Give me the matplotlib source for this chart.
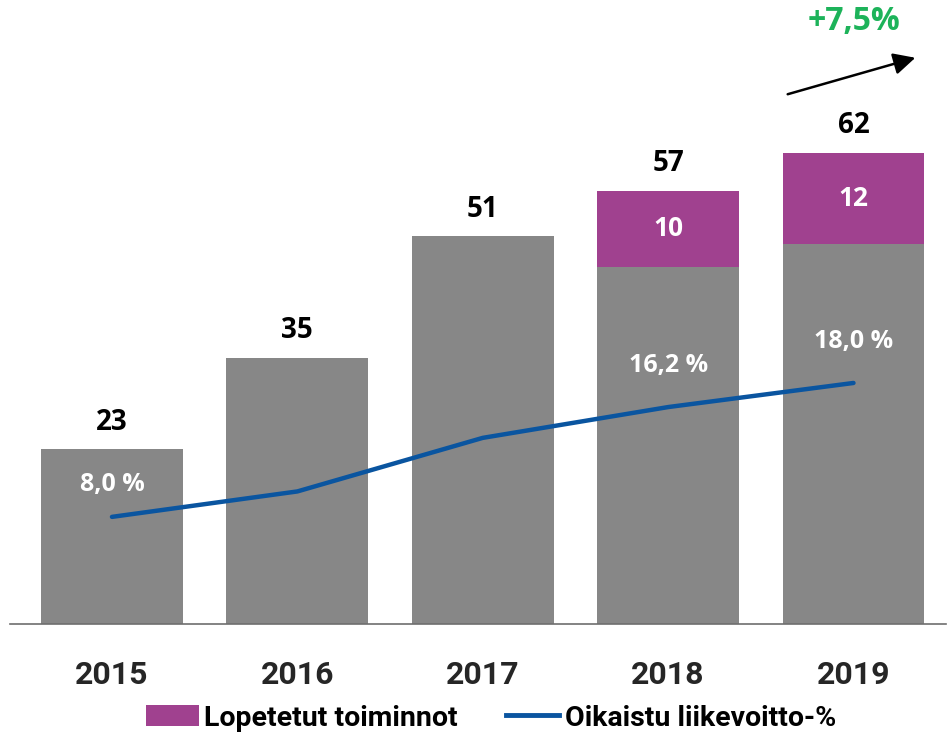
import matplotlib
matplotlib.use("Agg")
import matplotlib.pyplot as plt
from matplotlib.lines import Line2D
from matplotlib.patches import Patch, FancyArrowPatch

years = ["2015", "2016", "2017", "2018", "2019"]
continuing = [23, 35, 51, 47, 50]
discontinued = [0, 0, 0, 10, 12]
totals = [23, 35, 51, 57, 62]
margin_pct = [8.0, 9.9, 13.9, 16.2, 18.0]
margin_labels = ["8,0 %", "", "", "16,2 %", "18,0 %"]
growth_label = "+7,5%"
legend_labels = ["Lopetetut toiminnot", "Oikaistu liikevoitto-%"]

GRAY = "#878787"
PURPLE = "#a0418f"
BLUE = "#0a55a0"
GREEN = "#1db35a"

fig = plt.figure(figsize=(9.49, 7.35), dpi=100)
W, H = 949, 735
ax = fig.add_axes([10 / W, 1 - 624 / H, 936 / W, 624 / H])
ax2 = ax.twinx()

x = list(range(len(years)))
bw = 0.765
ax.bar(x, continuing, width=bw, color=GRAY, zorder=2)
disc_x = [i for i in x if discontinued[i] > 0]
ax.bar(disc_x, [discontinued[i] for i in disc_x], bottom=[continuing[i] for i in disc_x],
       width=bw, color=PURPLE, zorder=2)

ax.set_xlim(-0.55, 4.499)
ax.set_ylim(0, 82.1)
ax2.set_ylim(0, 46.6)

num_font = ["Open Sans", "DejaVu Sans"]
cond_font = ["Roboto", "DejaVu Sans"]

for i, t in enumerate(totals):
    ax.annotate(str(t), (i, t), xytext=(0, 9), textcoords="offset points",
                ha="center", va="bottom", fontsize=20, fontweight="bold",
                family=num_font, color="black")
for i in disc_x:
    ax.text(i, continuing[i] + discontinued[i] / 2, str(discontinued[i]), ha="center",
            va="center", fontsize=19, fontweight="bold", family=num_font, color="white")

ax2.plot(x, margin_pct, color=BLUE, lw=3.2, solid_capstyle="round", zorder=3)
for i, lab in enumerate(margin_labels):
    if lab:
        off = 23 if i == 0 else 30
        ax2.annotate(lab, (i, margin_pct[i]), xytext=(0, off), textcoords="offset points",
                     ha="center", va="center", fontsize=18, fontweight="bold",
                     family=num_font, color="white")

for a in (ax, ax2):
    for s in ("top", "right", "left"):
        a.spines[s].set_visible(False)
    a.set_yticks([])
ax2.spines["bottom"].set_visible(False)
ax.spines["bottom"].set_color("#6e6e6e")
ax.spines["bottom"].set_linewidth(1.2)
ax.set_xticks(x)
ax.set_xticklabels(years, fontsize=23, fontweight="bold", family=cond_font, color="#262626")
ax.tick_params(axis="x", length=0, pad=26)

# growth arrow
fig.add_artist(FancyArrowPatch(
    (785 / W, 1 - 95 / H), (918 / W, 1 - 57 / H), transform=fig.transFigure,
    arrowstyle="-|>,head_length=6,head_width=3", color="black", lw=1.8, mutation_scale=2.2))
fig.text(854 / W, 1 - 22 / H, growth_label, ha="center", va="center", fontsize=23,
         fontweight="bold", family=num_font, color=GREEN)

handles = [Patch(facecolor=PURPLE, edgecolor="none"),
           Line2D([0], [0], color=BLUE, lw=3.5)]
fig.legend(handles, legend_labels, loc="center", bbox_to_anchor=(491 / W, 1 - 718 / H),
           ncol=2, frameon=False, prop={"family": cond_font, "weight": "bold", "size": 20.5},
           handlelength=1.85, handleheight=0.75, handletextpad=0.2, columnspacing=1.7)

fig.savefig("out.png", dpi=100)
